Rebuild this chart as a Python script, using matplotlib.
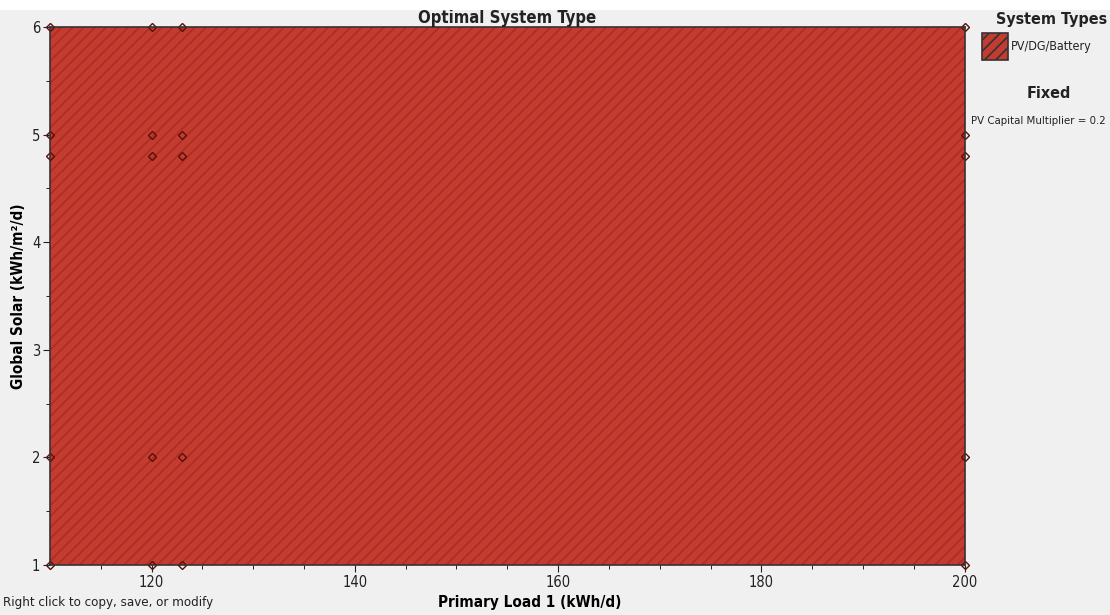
import matplotlib
matplotlib.use("Agg")
import matplotlib.pyplot as plt
from matplotlib.patches import Rectangle

plt.rcParams['font.family'] = ['DejaVu Sans']
plt.rcParams['font.stretch'] = 'condensed'
plt.rcParams['hatch.linewidth'] = 1.2

# Data
load_values = [110, 120, 123, 200]          # Primary Load 1 (kWh/d)
solar_values = [1, 2, 4.8, 5, 6]             # Global Solar (kWh/m2/d)
system_type = "PV/DG/Battery"
x_range = [110, 200]
y_range = [1, 6]
x_ticks = [120, 140, 160, 180, 200]
y_ticks = [1, 2, 3, 4, 5, 6]

face = "#c43b2f"
hatch_col = "#ab2e24"
bg = "#f0f0f0"

fig = plt.figure(figsize=(11.1, 6.15), dpi=100, facecolor=bg)
ax = fig.add_axes([0.045, 0.0813, 0.824, 0.875])
ax.set_facecolor(bg)

ax.fill_between(x_range, [y_range[0]] * 2, [y_range[1]] * 2, facecolor=face,
                edgecolor=hatch_col, hatch="///", linewidth=0)

for xv in load_values:
    for yv in solar_values:
        ax.plot(xv, yv, marker="D", markersize=4.5, markerfacecolor="none",
                markeredgecolor="#5a0f0a", markeredgewidth=1.0, clip_on=False)

ax.set_xlim(*x_range)
ax.set_ylim(*y_range)
ax.set_xticks(x_ticks)
ax.set_yticks(y_ticks)
ax.set_xticks(range(115, 200, 5), minor=True)
ax.set_yticks([1.5, 2.5, 3.5, 4.5, 5.5], minor=True)
ax.tick_params(axis="both", which="major", length=5, labelsize=10.5, colors="#222222", pad=2)
ax.tick_params(axis="both", which="minor", length=3)
for s in ax.spines.values():
    s.set_color("#333333")
    s.set_linewidth(1.2)

ax.set_xlabel("Primary Load 1 (kWh/d)", fontsize=11, fontweight="bold", labelpad=2)
ax.xaxis.set_label_coords(0.525, -0.055)
ax.set_ylabel("Global Solar (kWh/m²/d)", fontsize=11, fontweight="bold", labelpad=4)
ax.set_title("Optimal System Type", fontsize=12, fontweight="bold", pad=1, color="#222222")

fig.patches.append(Rectangle((0, 0.983), 1, 0.017, transform=fig.transFigure,
                             facecolor="white", edgecolor="none", zorder=0))

# Legend panel
fig.text(0.947, 0.968, "System Types", fontsize=11.5, fontweight="bold", ha="center", va="center", color="#222222")
fig.patches.append(Rectangle((0.885, 0.903), 0.023, 0.043, transform=fig.transFigure,
                             facecolor=face, edgecolor="#333333", hatch="///", linewidth=1.2))
fig.text(0.911, 0.924, system_type, fontsize=9, ha="left", va="center", color="#222222")
fig.text(0.945, 0.848, "Fixed", fontsize=11.5, fontweight="bold", ha="center", va="center", color="#222222")
fig.text(0.875, 0.804, "PV Capital Multiplier = 0.2", fontsize=8.2, ha="left", va="center", color="#222222")

fig.text(0.003, 0.02, "Right click to copy, save, or modify", fontsize=9.5, ha="left", va="center", color="#222222")

fig.savefig("out.png", dpi=100, facecolor=bg)
